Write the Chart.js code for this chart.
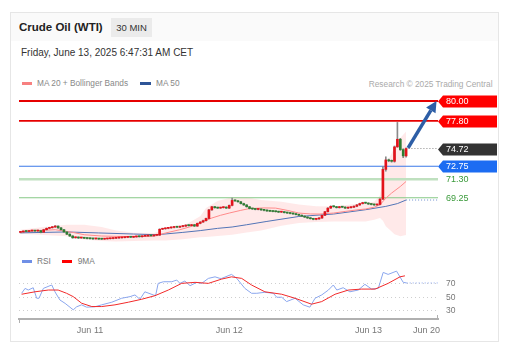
<!DOCTYPE html>
<html>
<head>
<meta charset="utf-8">
<script src="https://cdn.jsdelivr.net/npm/chart.js@4.4.1/dist/chart.umd.min.js"></script>
<style>
body{margin:0;background:#fff;width:514px;height:358px;position:relative;overflow:hidden;font-family:'Liberation Sans',Arial,sans-serif}
.card{position:absolute;left:10px;top:12px;width:489px;height:330px;border:1px solid #e6e6e6;box-sizing:border-box}
.head{position:absolute;left:11px;top:13px;width:487px;height:28px;background:#fafafa}
.t{position:absolute;white-space:nowrap}
.lg{font-size:8.3px;line-height:10px;color:#888}
.sw{position:absolute;height:3px;width:10.5px}
canvas{position:absolute;left:0}
</style>
</head>
<body>
<div class="card"></div>
<div class="head"></div>
<div class="t" style="left:19px;top:20px;font:700 11.5px/14px 'Liberation Sans',Arial;color:#222">Crude Oil (WTI)</div>
<div class="t" style="left:111px;top:18px;width:41px;height:19px;background:#ebebeb;text-align:center;font:9.5px/19px 'Liberation Sans',Arial;color:#333">30 MIN</div>
<div class="t" style="left:21px;top:46px;font:10px/13px 'Liberation Sans',Arial;color:#333">Friday, June 13, 2025 6:47:31 AM CET</div>

<div class="sw" style="left:21.5px;top:81.5px;background:#f78080"></div>
<div class="t lg" style="left:37px;top:78px">MA 20 + Bollinger Bands</div>
<div class="sw" style="left:140px;top:81.5px;background:#2f5597"></div>
<div class="t lg" style="left:156px;top:78px">MA 50</div>
<div class="t lg" style="right:21.5px;top:79px;color:#aaa">Research © 2025 Trading Central</div>

<div class="sw" style="left:21.5px;top:259.5px;background:#6f8fe6"></div>
<div class="t lg" style="left:37px;top:256px;color:#777">RSI</div>
<div class="sw" style="left:61.7px;top:259.5px;background:#f00"></div>
<div class="t lg" style="left:77.7px;top:256px;color:#777">9MA</div>

<canvas id="main" width="514" height="153" style="top:92px"></canvas>
<canvas id="rsi" width="514" height="75" style="top:266px"></canvas>

<script>
// 30 min bars from Jun 10 12:00, index 0..133
const tickPos = [24, 72, 120, 140];
const tickLabels = ['Jun 11', 'Jun 12', 'Jun 13', 'Jun 20'];

const opens = [
  65.40,65.45,65.52,65.50,65.56,65.58,65.55,65.60,65.42,65.70,
  65.85,65.92,66.00,66.10,65.90,65.70,65.45,65.20,65.00,64.80,
  64.85,64.78,64.80,64.75,64.72,64.70,64.68,64.70,64.66,64.65,
  64.68,64.70,64.72,64.75,64.78,64.80,64.82,64.85,64.88,64.86,
  64.90,64.95,64.92,64.98,65.00,65.05,65.02,65.08,65.10,65.75,
  65.80,65.85,65.90,65.95,66.00,65.98,66.05,66.10,66.20,66.15,
  66.25,66.10,66.40,66.55,66.70,66.95,67.90,68.25,68.15,68.10,
  68.15,68.20,68.10,68.40,68.95,68.90,68.80,68.60,68.45,68.25,
  68.05,68.00,67.95,67.98,67.90,67.85,67.78,67.75,67.72,67.70,
  67.65,67.66,67.60,67.55,67.50,67.45,67.38,67.30,67.20,67.10,
  67.00,66.92,66.85,66.90,67.00,67.30,67.70,68.10,68.30,68.25,
  68.15,68.25,68.20,68.10,68.15,68.20,68.30,68.45,68.60,68.70,
  68.65,68.55,68.50,68.45,68.50,69.10,72.40,73.45,73.35,73.30,
  74.90,75.75,74.60,73.90];
const highs = [
  65.50,65.57,65.56,65.60,65.63,65.62,65.65,65.64,65.75,65.90,
  65.97,66.05,66.16,66.14,65.95,65.75,65.50,65.25,65.05,64.90,
  64.90,64.85,64.84,64.79,64.76,64.74,64.74,64.73,64.70,64.72,
  64.74,64.76,64.79,64.82,64.84,64.86,64.89,64.92,64.92,64.94,
  64.99,64.99,65.02,65.04,65.09,65.08,65.12,65.15,65.80,65.86,
  65.90,65.95,66.00,66.05,66.04,66.10,66.15,66.25,66.24,66.30,
  66.30,66.45,66.60,66.76,67.00,67.95,68.30,68.30,68.20,68.20,
  68.25,68.25,68.45,69.22,69.02,68.95,68.85,68.65,68.50,68.30,
  68.10,68.05,68.03,68.02,67.95,67.90,67.83,67.80,67.77,67.75,
  67.70,67.70,67.65,67.60,67.55,67.50,67.43,67.35,67.25,67.15,
  67.05,66.97,66.95,67.04,67.35,67.75,68.15,68.36,68.35,68.30,
  68.30,68.30,68.25,68.20,68.24,68.35,68.50,68.65,68.75,68.75,
  68.70,68.60,68.55,68.55,69.15,72.70,73.80,73.55,73.45,75.00,
  77.62,75.85,74.70,74.80];
const lows = [
  65.35,65.40,65.45,65.46,65.52,65.50,65.50,65.35,65.38,65.65,
  65.80,65.88,65.95,65.85,65.65,65.40,65.15,64.95,64.75,64.76,
  64.72,64.74,64.70,64.68,64.66,64.63,64.64,64.61,64.60,64.62,
  64.64,64.66,64.68,64.71,64.74,64.76,64.78,64.81,64.82,64.82,
  64.86,64.88,64.88,64.94,64.96,64.98,64.98,65.03,65.05,65.70,
  65.75,65.80,65.85,65.90,65.92,65.93,66.00,66.05,66.10,66.10,
  66.05,66.06,66.35,66.50,66.65,66.90,67.85,68.08,68.05,68.06,
  68.10,68.05,68.05,68.35,68.85,68.75,68.55,68.40,68.20,68.00,
  67.95,67.90,67.90,67.85,67.80,67.73,67.70,67.68,67.65,67.60,
  67.60,67.55,67.50,67.45,67.40,67.33,67.25,67.15,67.05,66.95,
  66.88,66.80,66.80,66.85,66.95,67.25,67.65,68.05,68.20,68.10,
  68.10,68.15,68.05,68.05,68.10,68.15,68.25,68.40,68.55,68.60,
  68.50,68.45,68.40,68.40,68.45,69.05,72.20,73.25,73.20,73.20,
  74.85,74.50,73.70,73.75];
const closes = [
  65.45,65.52,65.50,65.56,65.58,65.55,65.60,65.42,65.70,65.85,
  65.92,66.00,66.10,65.90,65.70,65.45,65.20,65.00,64.80,64.85,
  64.78,64.80,64.75,64.72,64.70,64.68,64.70,64.66,64.65,64.68,
  64.70,64.72,64.75,64.78,64.80,64.82,64.85,64.88,64.86,64.90,
  64.95,64.92,64.98,65.00,65.05,65.02,65.08,65.10,65.75,65.80,
  65.85,65.90,65.95,66.00,65.98,66.05,66.10,66.20,66.15,66.25,
  66.10,66.40,66.55,66.70,66.95,67.90,68.25,68.15,68.10,68.15,
  68.20,68.10,68.40,68.95,68.90,68.80,68.60,68.45,68.25,68.05,
  68.00,67.95,67.98,67.90,67.85,67.78,67.75,67.72,67.70,67.65,
  67.66,67.60,67.55,67.50,67.45,67.38,67.30,67.20,67.10,67.00,
  66.92,66.85,66.90,67.00,67.30,67.70,68.10,68.30,68.25,68.15,
  68.25,68.20,68.10,68.15,68.20,68.30,68.45,68.60,68.70,68.65,
  68.55,68.50,68.45,68.50,69.10,72.40,73.45,73.35,73.30,74.90,
  75.75,74.60,73.90,74.72];

// indicators (bar index -> value)
const ma20X = [0,6,12,18,22,28,33,40,46,50,55,59,62,66,69,72,76,79,84,88,92,96,100,103,108,112,116,119,122,124,126,128,131,133];
const ma20Y = [65.45,65.6,65.7,65.4,65.14,65.0,64.96,64.93,64.96,65.33,65.7,66.07,66.5,67.0,67.3,67.55,67.85,68.05,68.12,68.1,67.85,67.55,67.45,67.44,67.55,67.73,67.9,68.0,68.2,68.47,69.2,69.77,70.5,71.06];
const ma50X = [0,16,27,39,47,56,62,68,73,78,85,96,108,119,126,130,133];
const ma50Y = [65.35,65.45,65.34,65.22,65.14,65.4,65.6,65.85,66.0,66.25,66.62,67.17,67.44,67.92,68.29,68.6,69.0];
const bandX = [0,8,16,22,28,33,39,46,50,56,62,64,68,73,78,83,90,96,102,108,114,119,122,124,125,126,128,129,131,133];
const bbUpper = [65.7,66.0,66.25,66.25,66.0,65.6,65.35,65.33,65.7,66.07,67.2,68.1,68.9,69.3,69.3,69.0,68.8,68.5,68.3,68.28,68.5,68.66,68.8,69.5,71.2,72.9,74.2,74.9,75.9,76.6];
const bbLower = [65.25,65.1,64.96,64.6,64.45,64.4,64.45,64.5,64.5,64.65,64.87,64.9,65.0,65.14,65.4,65.6,66.15,66.44,66.55,66.62,66.6,66.6,66.8,67.0,66.7,66.07,65.5,65.2,64.96,65.1];

const levels = [80.00, 77.80, 74.72, 72.75, 71.30, 69.25];
const arrowFrom = [133.7, 74.8];
const arrowTo = [143.5, 80.0];

const rsiX = [0.4,1.6,2.7,4.4,5.6,6.4,7.9,10.2,10.8,11.9,13.6,15.4,18.2,19.4,21.1,22.8,25.7,28,31.5,34.9,37.8,39.5,41.2,42.9,45.8,46.6,47.5,49.3,52.2,53.9,55,56.7,58.5,60.8,62.5,64.8,67.1,68.8,69.4,72.8,74.6,77.4,79.7,81.5,84.3,87.2,88.4,90.1,91.8,94.7,97.5,99.8,101.6,103.9,106.2,107.9,109.1,111.3,113.6,116.5,118.8,121.1,123.4,125.1,126.8,129.7,132,133.2];
const rsiY = [55.8,63,60.6,64,48.5,48.5,63,67,68,58,46,41,31.5,36,38.8,35.4,36,38.8,42.7,48.5,50.9,53.4,47,58,53.4,52.3,70.4,72.8,72.8,75.3,70.4,73.8,67,71.9,70.4,77.7,80,77.7,77.7,83.6,77.7,63,55.8,55.8,57.3,55.8,50,50,43.6,48.5,38.8,35.4,48.5,53.4,60.6,68,60.6,64,58,60.6,69,62,63,86.5,83.6,88.4,71.9,71];
const rsiMaX = [0.4,5,9.6,13,15.9,18.2,21.1,24.6,28,32.6,37.2,41.8,46.4,51,55.6,60.2,64.8,69.4,72.8,76.3,79.7,84.3,90.1,94.7,100.4,103.9,108.5,113.1,117.7,122.3,126.8,130.9,132.6];
const rsiMaY = [54.4,58,60.6,60.6,55.8,50.9,41.2,36.3,36.3,38.8,42.7,47,52.3,60.6,70.4,71.9,70.4,76.7,80,77.7,68,58,54.4,48.5,39.8,43.6,54.4,60.6,62,62,70.4,80,81.5];
const rsiTicks = [30, 50, 70];

const RED = '#e3121b', GREEN = '#2e7d32';
const pts = (xs, ys) => xs.map((x, i) => ({x: x, y: ys[i]}));

Chart.defaults.font.family = "'Liberation Sans', Arial, sans-serif";

const levelStyle = [
  {line: '#e60000', w: 1.8, tag: '#ff0000'},
  {line: '#e60000', w: 1.8, tag: '#ff0000'},
  {line: '#888', w: 1, dash: [1, 2], tag: '#333333', from: 133.8},
  {line: '#3b78e8', w: 1.2, tag: '#1c6cf2'},
  {line: '#bfe0bf', w: 2.5, text: '#3a9a3a'},
  {line: '#86c886', w: 1.2, text: '#3a9a3a'}
];

const tagPlugin = {
  id: 'tags',
  afterDatasetsDraw(chart) {
    const ctx = chart.ctx, x = chart.scales.x, y = chart.scales.y;
    const xr = x.getPixelForValue(144);
    ctx.save();
    ctx.font = "9px 'Liberation Sans', Arial, sans-serif";
    ctx.textBaseline = 'middle';
    levels.forEach((v, k) => {
      const st = levelStyle[k];
      const py = Math.round(y.getPixelForValue(v)) + 0.5;
      if (st.tag) {
        ctx.fillStyle = st.tag;
        ctx.beginPath();
        ctx.moveTo(xr, py);
        ctx.lineTo(xr + 5, py - 6);
        ctx.lineTo(497, py - 6);
        ctx.lineTo(497, py + 6);
        ctx.lineTo(xr + 5, py + 6);
        ctx.closePath();
        ctx.fill();
        ctx.fillStyle = '#fff';
      } else {
        ctx.fillStyle = st.text;
      }
      ctx.fillText(v.toFixed(2), 446, py + 0.5);
    });
    // arrow
    const x0 = x.getPixelForValue(arrowFrom[0]), y0 = y.getPixelForValue(arrowFrom[1]);
    const x1 = x.getPixelForValue(arrowTo[0]), y1 = y.getPixelForValue(arrowTo[1]);
    const a = Math.atan2(y1 - y0, x1 - x0), hl = 11, hw = 5.5;
    const bx = x1 - hl * Math.cos(a), by = y1 - hl * Math.sin(a);
    ctx.strokeStyle = '#2d5ea6';
    ctx.fillStyle = '#2d5ea6';
    ctx.lineWidth = 3.5;
    ctx.beginPath();
    ctx.moveTo(x0, y0);
    ctx.lineTo(bx, by);
    ctx.stroke();
    ctx.beginPath();
    ctx.moveTo(x1, y1);
    ctx.lineTo(bx + hw * Math.sin(a), by - hw * Math.cos(a));
    ctx.lineTo(bx - hw * Math.sin(a), by + hw * Math.cos(a));
    ctx.closePath();
    ctx.fill();
    ctx.restore();
  }
};

// little end marks on the bottom axis
const endTicks = {
  id: 'endTicks',
  afterDraw(chart) {
    const ctx = chart.ctx, a = chart.chartArea;
    ctx.save();
    ctx.strokeStyle = '#b0b0b0';
    ctx.lineWidth = 1;
    ctx.beginPath();
    ctx.moveTo(a.left + 0.5, a.bottom);
    ctx.lineTo(a.left + 0.5, a.bottom + 4);
    ctx.moveTo(a.right - 0.5, a.bottom);
    ctx.lineTo(a.right - 0.5, a.bottom - 4);
    ctx.stroke();
    ctx.restore();
  }
};

const candleColors = closes.map((c, i) => c >= opens[i] ? RED : GREEN);

let mainSets = [
  {type: 'bar', data: closes.map((c, i) => ({x: i, y: [opens[i], c]})), backgroundColor: candleColors,
    barThickness: 2, minBarLength: 1, grouped: false, order: 0},
  {type: 'bar', data: highs.map((h, i) => ({x: i, y: [lows[i], h]})), backgroundColor: '#8a8a8a',
    barThickness: 1, grouped: false, order: 1},
  {type: 'line', data: pts(ma20X, ma20Y), borderColor: '#ff8a8a', borderWidth: 1, pointRadius: 0, order: 2},
  {type: 'line', data: pts(ma50X, ma50Y), borderColor: '#5274b6', borderWidth: 1, pointRadius: 0, order: 2},
  {type: 'line', data: [{x: ma50X[ma50X.length - 1], y: ma50Y[ma50Y.length - 1]}, {x: 144, y: ma50Y[ma50Y.length - 1]}],
    borderColor: '#6a8ccc', borderWidth: 1, borderDash: [1, 2], pointRadius: 0, order: 2},
  {type: 'line', data: pts(bandX, bbUpper), borderColor: 'rgba(0,0,0,0)', backgroundColor: 'rgba(255,110,110,0.15)',
    fill: '+1', pointRadius: 0, order: 6},
  {type: 'line', data: pts(bandX, bbLower), borderColor: 'rgba(0,0,0,0)', fill: false, pointRadius: 0, order: 6}
];
levels.forEach((v, k) => {
  const st = levelStyle[k];
  mainSets.push({type: 'line', data: [{x: st.from !== undefined ? st.from : -0.5, y: v}, {x: 144, y: v}],
    borderColor: st.line, borderWidth: st.w, borderDash: st.dash || [], pointRadius: 0, order: 4});
});

new Chart(document.getElementById('main'), {
  type: 'bar',
  data: {datasets: mainSets},
  options: {
    responsive: false, animation: false, events: [],
    layout: {padding: {left: 19, right: 76, top: 0, bottom: 0}},
    plugins: {legend: {display: false}, tooltip: {enabled: false}},
    scales: {
      x: {type: 'linear', min: -0.5, max: 144, offset: false, display: false},
      y: {min: 64, max: 81, display: false}
    }
  },
  plugins: [tagPlugin]
});

new Chart(document.getElementById('rsi'), {
  type: 'line',
  data: {datasets: [
    {data: pts(rsiMaX, rsiMaY), borderColor: '#f22a2a', borderWidth: 1, pointRadius: 0},
    {data: pts(rsiX, rsiY), borderColor: '#8aa6ee', borderWidth: 1, pointRadius: 0},
    {data: [{x: rsiX[rsiX.length - 1], y: rsiY[rsiY.length - 1]}, {x: 144, y: rsiY[rsiY.length - 1]}],
      borderColor: '#8aa6ee', borderWidth: 1, borderDash: [1, 2], pointRadius: 0}
  ]},
  options: {
    responsive: false, animation: false, events: [],
    layout: {padding: {left: 19, right: 36, top: 2, bottom: 0}},
    plugins: {legend: {display: false}, tooltip: {enabled: false}},
    scales: {
      x: {
        type: 'linear', min: -0.5, max: 144, offset: false,
        grid: {display: false, drawTicks: false},
        border: {color: '#b0b0b0', width: 2},
        ticks: {autoSkip: false, maxRotation: 0, padding: 6, color: '#777', font: {size: 9},
          callback: v => tickLabels[tickPos.indexOf(v)]},
        afterBuildTicks: s => { s.ticks = tickPos.map(v => ({value: v})); },
        afterFit: s => { s.height = 22; s.paddingLeft = 0; s.paddingRight = 0; }
      },
      y: {
        position: 'right', min: 18, max: 93,
        grid: {color: '#cfcfcf', drawTicks: false},
        border: {display: false, dash: [1, 3]},
        ticks: {padding: 8, color: '#777', font: {size: 8.5}},
        afterBuildTicks: s => { s.ticks = rsiTicks.map(v => ({value: v})); },
        afterFit: s => { s.width = 40; s.paddingTop = 0; s.paddingBottom = 0; }
      }
    }
  },
  plugins: [endTicks]
});
</script>
</body>
</html>
